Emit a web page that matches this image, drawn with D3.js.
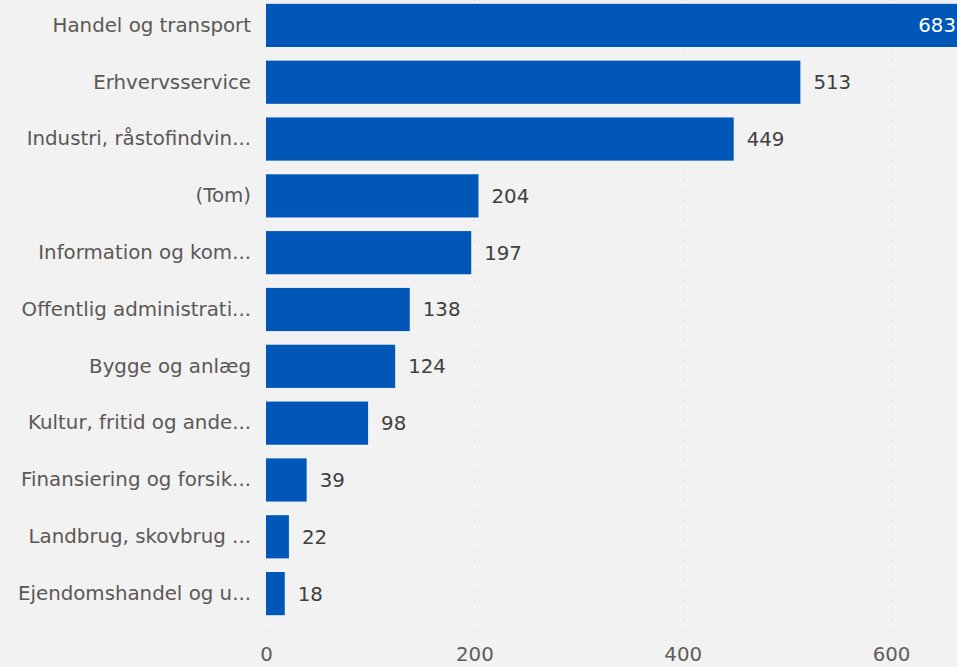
<!DOCTYPE html>
<html>
<head>
<meta charset="utf-8">
<script src="https://cdn.jsdelivr.net/npm/d3@7"></script>
<style>
  body { margin: 0; background: #f2f2f2; overflow: hidden; }
  svg { display: block; font-family: "DejaVu Sans", sans-serif; }
</style>
</head>
<body>
<div id="chart"></div>
<script>
const categories = [
    'Handel og transport',
    'Erhvervsservice',
    'Industri, råstofindvin...',
    '(Tom)',
    'Information og kom...',
    'Offentlig administrati...',
    'Bygge og anlæg',
    'Kultur, fritid og ande...',
    'Finansiering og forsik...',
    'Landbrug, skovbrug ...',
    'Ejendomshandel og u...'
];
const values = [683, 513, 449, 204, 197, 138, 124, 98, 39, 22, 18];
const xTicks = [0, 200, 400, 600];

const width = 957, height = 667;
const fontSize = '19.8px';
const data = categories.map((c, i) => ({ name: c, value: values[i] }));

const svg = d3.select('#chart')
    .append('svg')
    .attr('width', width)
    .attr('height', height);

// Scales
const x = d3.scaleLinear().domain([0, 600]).range([266, 891]);
const y = d3.scaleBand()
    .domain(categories)
    .range([-3, 622])
    .paddingInner(0.24)
    .paddingOuter(0.12);

// Dotted grid lines
svg.append('g')
    .selectAll('line')
    .data(xTicks)
    .join('line')
    .attr('x1', d => Math.round(x(d)) + 0.5)
    .attr('x2', d => Math.round(x(d)) + 0.5)
    .attr('y1', 0)
    .attr('y2', 632)
    .attr('stroke', '#c8c8c8')
    .attr('stroke-width', 1)
    .attr('stroke-dasharray', '1,9');

// Bottom axis
const xAxis = svg.append('g')
    .attr('transform', 'translate(0,643)')
    .call(d3.axisBottom(x).tickValues(xTicks).tickSize(0).tickPadding(4));
xAxis.select('.domain').remove();
xAxis.selectAll('text')
    .attr('fill', '#5f5d5b')
    .style('font-size', fontSize)
    .style('font-family', '"DejaVu Sans", sans-serif');

// Left axis (category labels)
const yAxis = svg.append('g')
    .attr('transform', `translate(${x(0)},0)`)
    .call(d3.axisLeft(y).tickSize(0).tickPadding(15));
yAxis.select('.domain').remove();
yAxis.selectAll('text')
    .attr('fill', '#5a5856')
    .style('font-size', fontSize)
    .style('font-family', '"DejaVu Sans", sans-serif');

// Bars
svg.append('g')
    .selectAll('rect')
    .data(data)
    .join('rect')
    .attr('x', x(0))
    .attr('y', d => y(d.name))
    .attr('width', d => x(d.value) - x(0))
    .attr('height', y.bandwidth())
    .attr('fill', '#0057b8');

// Value labels (largest one sits inside the bar, at the picture's edge)
const maxVal = d3.max(values);
svg.append('g')
    .selectAll('text')
    .data(data)
    .join('text')
    .attr('x', d => d.value === maxVal ? Math.min(x(d.value) - 12, width - 1) : x(d.value) + 13)
    .attr('y', d => y(d.name) + y.bandwidth() / 2)
    .attr('dy', '0.35em')
    .attr('text-anchor', d => d.value === maxVal ? 'end' : 'start')
    .attr('fill', d => d.value === maxVal ? '#ffffff' : '#404040')
    .style('font-size', fontSize)
    .text(d => d.value);
</script>
</body>
</html>
